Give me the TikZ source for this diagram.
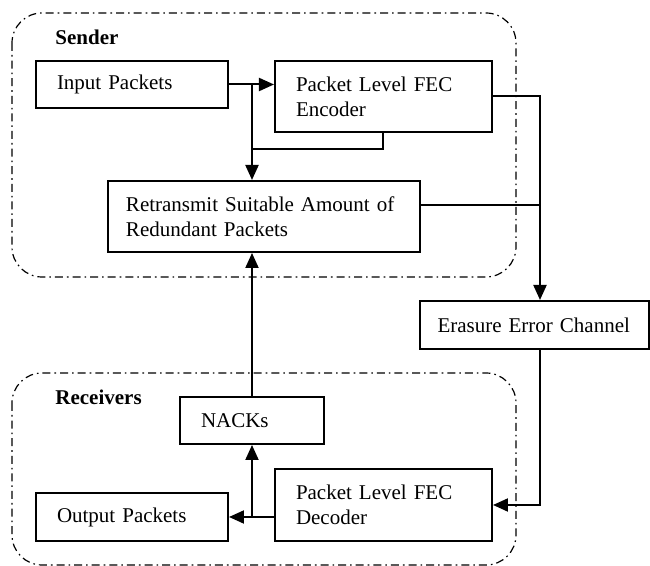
\documentclass[tikz,border=0pt]{standalone}
\usepackage{fontspec}
\setmainfont{Liberation Serif}
\usetikzlibrary{arrows.meta,calc}

\tikzset{
  blk/.style={draw,line width=1pt,rectangle,inner xsep=10.5pt,inner ysep=0pt,align=left,
    font=\fontsize{10.5}{12.5}\selectfont},
  grp/.style={draw,line width=0.6pt,rounded corners=15pt,dash pattern=on 4pt off 2pt on 0.8pt off 2pt},
  grplabel/.style={anchor=west,inner sep=0pt,font=\fontsize{10.5}{12.5}\selectfont\bfseries},
  wire/.style={line width=1pt},
  link/.style={wire,-{Triangle[length=7.5pt,width=6.5pt]}}
}

\begin{document}
\begin{tikzpicture}[x=0.5pt,y=-0.5pt]
  \useasboundingbox (0,0) rectangle (650,566);
  % sender / receiver groups
  \draw[grp] (12,13) rectangle (516,277);
  \draw[grp] (12,373) rectangle (516,565);
  \node[grplabel] (sndlbl) at (55,37) {Sender};
  \node[grplabel] (rcvlbl) at (55,397) {Receivers};

  % blocks
  \node[blk,text width=75pt,minimum height=23.5pt] (inp) at (132,84.5) {Input Packets};
  \node[blk,text width=87.5pt,minimum height=35.5pt] (enc) at (383.5,96.5) {Packet Level FEC\\Encoder};
  \node[blk,text width=138pt,inner xsep=9pt,minimum height=35.5pt] (retx) at (264,216.5) {Retransmit Suitable Amount of\\Redundant Packets};
  \node[blk,text width=97pt,inner xsep=8.75pt,minimum height=24pt] (chan) at (534.5,325) {Erasure Error Channel};
  \node[blk,text width=51pt,minimum height=23.5pt] (nack) at (252,420.5) {NACKs};
  \node[blk,text width=75pt,minimum height=24pt] (outp) at (132,517) {Output Packets};
  \node[blk,text width=87.5pt,minimum height=36pt] (dec) at (383.5,505) {Packet Level FEC\\Decoder};

  % branch points
  \coordinate (split) at (252,84.5);
  \coordinate (merge) at (252,149);
  \coordinate (trunk) at (540,505);

  % sender side
  \draw[link] (inp.east) -- (inp.east -| enc.west);
  \draw[link] (split) -- (split |- retx.north);
  \draw[wire] (enc.south) |- (merge);
  \draw[link] (enc.east) -| (trunk |- chan.north);
  \draw[wire] ([yshift=5.75pt]retx.east) -- ([yshift=5.75pt]retx.east -| trunk);

  % channel to receivers
  \draw[link] (trunk |- chan.south) |- (dec.east);
  \draw[link] (dec.west |- outp.east) -- (outp.east);
  \draw[link] (nack |- outp.east) -- (nack.south);
  \draw[link] (nack.north) -- (nack.north |- retx.south);
\end{tikzpicture}
\end{document}
